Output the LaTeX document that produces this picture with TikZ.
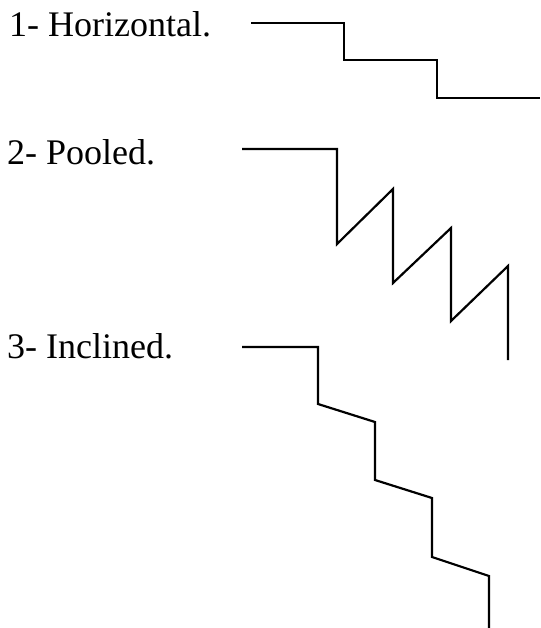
\documentclass[tikz,border=0pt]{standalone}
\usepackage{fontspec}
\setmainfont{Liberation Serif}
\begin{document}
\begin{tikzpicture}[x=1pt,y=-1pt,
  label/.style={anchor=base west,inner sep=0pt,font=\fontsize{36}{40}\selectfont},
  profile/.style={line width=2.2pt,line join=miter}]
\useasboundingbox (0,0) rectangle (540,628);
% titles
\node[label] (t1) at (9,37) {1- Horizontal.};
\node[label] (t2) at (7,165) {2- Pooled.};
\node[label] (t3) at (7,358) {3- Inclined.};
% 1: horizontal steps
\draw[profile] (251,23) -- (344,23) -- (344,60) -- (437,60) -- (437,98) -- (540,98);
% 2: pooled steps
\draw[profile] (242,149) -- (337,149) -- (337,244) -- (393,189) -- (393,283)
  -- (451,228) -- (451,321) -- (508,266) -- (508,360);
% 3: inclined steps
\draw[profile] (242,347) -- (318,347) -- (318,404) -- (375,422) -- (375,480)
  -- (432,498) -- (432,557) -- (489,576) -- (489,628);
\end{tikzpicture}
\end{document}
